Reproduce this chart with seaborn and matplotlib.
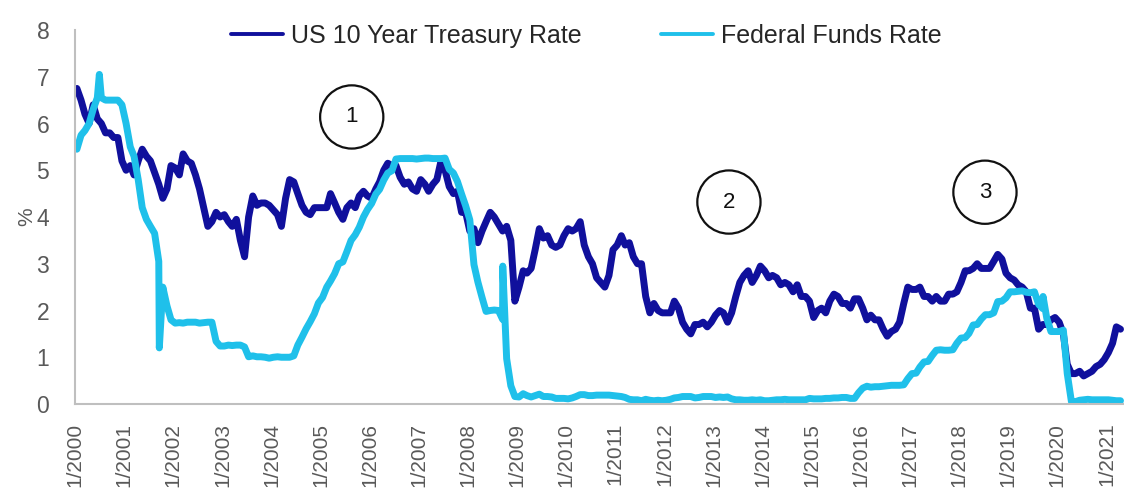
import matplotlib
matplotlib.use("Agg")
import matplotlib.pyplot as plt
import seaborn as sns
import pandas as pd

# ---------------- data (monthly) ----------------
us10y = [
    6.75, 6.50, 6.20, 6.00, 6.40, 6.10, 6.00, 5.80, 5.80, 5.70, 5.70, 5.20,   # 2000
    5.00, 5.10, 4.90, 5.20, 5.45, 5.30, 5.20, 4.95, 4.70, 4.40, 4.60, 5.10,   # 2001
    5.05, 4.90, 5.35, 5.20, 5.15, 4.90, 4.60, 4.20, 3.80, 3.90, 4.10, 4.00,   # 2002
    4.05, 3.90, 3.80, 3.95, 3.50, 3.15, 4.00, 4.45, 4.25, 4.30, 4.30, 4.25,   # 2003
    4.15, 4.05, 3.80, 4.40, 4.80, 4.75, 4.50, 4.25, 4.10, 4.05, 4.20, 4.20,   # 2004
    4.20, 4.20, 4.50, 4.30, 4.10, 3.95, 4.20, 4.30, 4.20, 4.45, 4.55, 4.45,   # 2005
    4.40, 4.60, 4.75, 5.00, 5.15, 5.10, 5.10, 4.85, 4.70, 4.75, 4.60, 4.55,   # 2006
    4.80, 4.70, 4.55, 4.70, 4.80, 5.20, 5.00, 4.65, 4.50, 4.55, 4.10, 4.10,   # 2007
    3.70, 3.75, 3.45, 3.70, 3.90, 4.10, 4.00, 3.85, 3.70, 3.80, 3.50, 2.20,   # 2008
    2.50, 2.85, 2.80, 2.90, 3.30, 3.75, 3.55, 3.60, 3.40, 3.35, 3.40, 3.60,   # 2009
    3.75, 3.70, 3.75, 3.90, 3.40, 3.15, 3.00, 2.70, 2.60, 2.50, 2.75, 3.30,   # 2010
    3.40, 3.60, 3.40, 3.45, 3.15, 3.00, 3.00, 2.30, 1.95, 2.15, 2.00, 1.95,   # 2011
    1.95, 1.95, 2.20, 2.05, 1.75, 1.60, 1.50, 1.70, 1.70, 1.75, 1.65, 1.75,   # 2012
    1.90, 2.00, 1.95, 1.75, 1.95, 2.30, 2.60, 2.75, 2.85, 2.60, 2.75, 2.95,   # 2013
    2.85, 2.70, 2.75, 2.70, 2.55, 2.60, 2.55, 2.40, 2.55, 2.30, 2.30, 2.20,   # 2014
    1.85, 2.00, 2.05, 1.95, 2.20, 2.35, 2.30, 2.15, 2.15, 2.05, 2.25, 2.25,   # 2015
    2.05, 1.80, 1.90, 1.80, 1.80, 1.60, 1.45, 1.55, 1.60, 1.75, 2.15, 2.50,   # 2016
    2.45, 2.45, 2.50, 2.30, 2.30, 2.20, 2.30, 2.20, 2.20, 2.35, 2.35, 2.40,   # 2017
    2.60, 2.85, 2.85, 2.90, 3.00, 2.90, 2.90, 2.90, 3.05, 3.20, 3.10, 2.80,   # 2018
    2.70, 2.65, 2.55, 2.50, 2.40, 2.05, 2.05, 1.60, 1.70, 1.70, 1.80, 1.85,   # 2019
    1.75, 1.50, 0.85, 0.65, 0.65, 0.70, 0.60, 0.65, 0.70, 0.80, 0.85, 0.95,   # 2020
    1.10, 1.30, 1.65, 1.60,                                                   # 2021
]

fed_funds = [
    5.45, 5.75, 5.85, 6.00, 6.30, 6.55, 6.55, 6.50, 6.50, 6.50, 6.50, 6.40,   # 2000
    6.00, 5.50, 5.30, 4.80, 4.20, 3.95, 3.80, 3.65, 3.05, 2.50, 2.10, 1.80,   # 2001
    1.73, 1.74, 1.73, 1.75, 1.75, 1.75, 1.73, 1.74, 1.75, 1.75, 1.34, 1.24,   # 2002
    1.24, 1.26, 1.25, 1.26, 1.26, 1.22, 1.01, 1.03, 1.01, 1.01, 1.00, 0.98,   # 2003
    1.00, 1.01, 1.00, 1.00, 1.00, 1.03, 1.26, 1.43, 1.61, 1.76, 1.93, 2.16,   # 2004
    2.28, 2.50, 2.63, 2.79, 3.00, 3.04, 3.26, 3.50, 3.62, 3.78, 4.00, 4.16,   # 2005
    4.29, 4.49, 4.59, 4.79, 4.94, 4.99, 5.24, 5.25, 5.25, 5.25, 5.25, 5.24,   # 2006
    5.25, 5.26, 5.26, 5.25, 5.25, 5.25, 5.26, 5.02, 4.94, 4.76, 4.49, 4.24,   # 2007
    3.94, 2.98, 2.61, 2.28, 1.98, 2.00, 2.01, 2.00, 1.81, 0.97, 0.39, 0.16,   # 2008
    0.15, 0.22, 0.18, 0.15, 0.18, 0.21, 0.16, 0.16, 0.15, 0.12, 0.12, 0.12,   # 2009
    0.11, 0.13, 0.16, 0.20, 0.20, 0.18, 0.18, 0.19, 0.19, 0.19, 0.19, 0.18,   # 2010
    0.17, 0.16, 0.14, 0.10, 0.09, 0.09, 0.07, 0.10, 0.08, 0.07, 0.08, 0.07,   # 2011
    0.08, 0.10, 0.13, 0.14, 0.16, 0.16, 0.16, 0.13, 0.14, 0.16, 0.16, 0.16,   # 2012
    0.14, 0.15, 0.14, 0.15, 0.11, 0.09, 0.09, 0.08, 0.08, 0.09, 0.08, 0.09,   # 2013
    0.07, 0.07, 0.08, 0.09, 0.09, 0.10, 0.09, 0.09, 0.09, 0.09, 0.09, 0.12,   # 2014
    0.11, 0.11, 0.11, 0.12, 0.12, 0.13, 0.13, 0.14, 0.14, 0.12, 0.12, 0.24,   # 2015
    0.34, 0.38, 0.36, 0.37, 0.37, 0.38, 0.39, 0.40, 0.40, 0.40, 0.41, 0.54,   # 2016
    0.65, 0.66, 0.79, 0.90, 0.91, 1.04, 1.15, 1.16, 1.15, 1.15, 1.16, 1.30,   # 2017
    1.41, 1.42, 1.51, 1.69, 1.70, 1.82, 1.91, 1.91, 1.95, 2.19, 2.20, 2.27,   # 2018
    2.40, 2.40, 2.41, 2.42, 2.39, 2.38, 2.40, 2.13, 2.04, 1.83, 1.55, 1.55,   # 2019
    1.55, 1.58, 0.65, 0.05, 0.05, 0.08, 0.09, 0.10, 0.09, 0.09, 0.09, 0.09,   # 2020
    0.09, 0.08, 0.07, 0.07,                                                   # 2021
]

# short-lived daily spikes visible on the Federal Funds line
fed_spike_dates = ["2000-06-30", "2001-09-19", "2008-09-16", "2019-09-17"]
fed_spike_values = [7.05, 1.20, 2.95, 2.30]

tick_years = list(range(2000, 2022))
y_ticks = [0, 1, 2, 3, 4, 5, 6, 7, 8]
series_names = ["US 10 Year Treasury Rate", "Federal Funds Rate"]
callouts = ["1", "2", "3"]
callout_dates = ["2005-08-20", "2013-04-25", "2018-07-12"]
callout_levels = [6.14, 4.32, 4.53]

# ---------------- frames ----------------
months = pd.date_range("2000-01-01", periods=len(us10y), freq="MS") + pd.Timedelta(days=14)
df10 = pd.DataFrame({"date": months, "rate": us10y})
dff = pd.concat([
    pd.DataFrame({"date": months, "rate": fed_funds}),
    pd.DataFrame({"date": pd.to_datetime(fed_spike_dates), "rate": fed_spike_values}),
]).sort_values("date").reset_index(drop=True)

# ---------------- style ----------------
sns.set_style("white")
plt.rcParams["font.family"] = ["Liberation Sans", "DejaVu Sans"]

DARK = "#10109c"
CYAN = "#1fc0ea"
GRID_GREY = "#bfbfbf"
TEXT_GREY = "#595959"

fig = plt.figure(figsize=(11.24, 4.93), dpi=100)
ax = fig.add_axes([75 / 1124, 89 / 493, 1049 / 1124, 374 / 493])

sns.lineplot(data=df10, x="date", y="rate", ax=ax, color=DARK, linewidth=5.0,
             label=series_names[0], estimator=None, sort=False)
sns.lineplot(data=dff, x="date", y="rate", ax=ax, color=CYAN, linewidth=5.0,
             label=series_names[1], estimator=None, sort=False)

ax.set_ylim(0, 8)
ax.set_xlim(pd.Timestamp("2000-01-01"), pd.Timestamp("2021-05-11"))
ax.set_yticks(y_ticks)
ax.set_yticklabels([str(v) for v in y_ticks])
ax.set_xticks([pd.Timestamp(f"{y}-01-01") for y in tick_years])
ax.set_xticklabels([f"1/{y}" for y in tick_years], rotation=90)
ax.set_xlabel("")
ax.set_ylabel("%", fontsize=15, color=TEXT_GREY, labelpad=0)

for side in ["top", "right"]:
    ax.spines[side].set_visible(False)
for side in ["left", "bottom"]:
    ax.spines[side].set_color(GRID_GREY)
    ax.spines[side].set_linewidth(1.5)

ax.tick_params(axis="both", colors=GRID_GREY, labelcolor=TEXT_GREY,
               length=6.5, width=1.2, direction="out", labelsize=15)
ax.tick_params(axis="y", pad=12, labelsize=16.5)
ax.tick_params(axis="x", pad=7)

leg = ax.legend(loc="center", bbox_to_anchor=(0.4876, 0.985), ncol=2, frameon=False,
                fontsize=18, handlelength=2.1, handletextpad=0.32, columnspacing=3.15,
                borderaxespad=0)
for h in leg.get_lines():
    h.set_linewidth(2.8)
for t in leg.get_texts():
    t.set_color("#262626")

for label, d, lvl in zip(callouts, callout_dates, callout_levels):
    ax.text(pd.Timestamp(d), lvl, label, ha="center", va="center", fontsize=16,
            color="#111111",
            bbox=dict(boxstyle="circle,pad=0.95", fc="none", ec="#111111", lw=1.6))

fig.savefig("out.png", dpi=100)
